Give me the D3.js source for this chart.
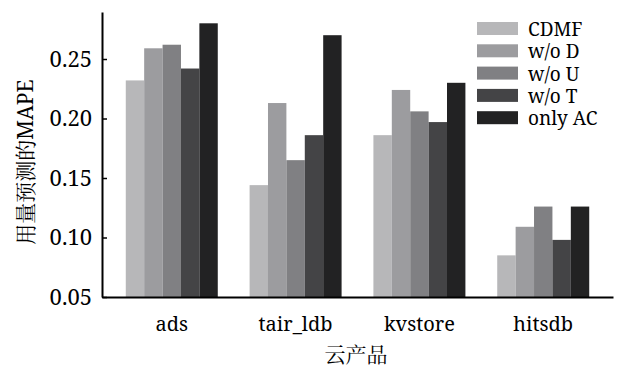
<!DOCTYPE html>
<html>
<head>
<meta charset="utf-8">
<script src="https://cdn.jsdelivr.net/npm/d3@7"></script>
</head>
<body style="margin:0; background:#fff">
<svg id="chart" width="642" height="378"></svg>
<script>
// categories and series
var products = ['ads', 'tair_ldb', 'kvstore', 'hitsdb'];
var seriesNames = ['CDMF', 'w/o D', 'w/o U', 'w/o T', 'only AC'];
var seriesColors = ['#b7b7b9', '#9c9c9f', '#808083', '#444446', '#222223'];

var cdmf   = [0.232, 0.144, 0.186, 0.085];
var woD    = [0.259, 0.213, 0.224, 0.109];
var woU    = [0.262, 0.165, 0.206, 0.126];
var woT    = [0.242, 0.186, 0.197, 0.098];
var onlyAC = [0.280, 0.270, 0.230, 0.126];

var yTicks = [0.05, 0.10, 0.15, 0.20, 0.25];

var values = [cdmf, woD, woU, woT, onlyAC];

var FONT = '"Noto Serif", "Noto Serif CJK SC", "Liberation Serif", serif';

var svg = d3.select('#chart');

var x0 = d3.scaleBand()
  .domain(products)
  .range([102, 613])
  .paddingInner(0.257)
  .paddingOuter(0.192);

var x1 = d3.scaleBand()
  .domain(seriesNames)
  .range([0, x0.bandwidth()]);

var y = d3.scaleLinear()
  .domain([0.05, 0.2895])
  .range([297, 12]);

// bars, one group per product
var groups = svg.selectAll('g.group')
  .data(products)
  .enter()
  .append('g')
    .attr('class', 'group')
    .attr('transform', function(d) { return 'translate(' + x0(d) + ',0)'; });

groups.selectAll('rect')
  .data(function(d, i) {
    return seriesNames.map(function(s, j) { return { name: s, value: values[j][i], color: seriesColors[j] }; });
  })
  .enter()
  .append('rect')
    .attr('x', function(d) { return x1(d.name); })
    .attr('y', function(d) { return y(d.value); })
    .attr('width', x1.bandwidth())
    .attr('height', function(d) { return y(0.05) - y(d.value); })
    .attr('fill', function(d) { return d.color; });

// y axis, ticks pointing inward
var yAxis = svg.append('g')
  .attr('transform', 'translate(102,0)')
  .call(d3.axisLeft(y)
    .tickValues(yTicks)
    .tickFormat(d3.format('.2f'))
    .tickSizeInner(-5)
    .tickSizeOuter(0)
    .tickPadding(10));
yAxis.select('.domain').attr('stroke', '#000').attr('stroke-width', 2);
yAxis.selectAll('.tick line').attr('stroke', '#000').attr('stroke-width', 1.5);
yAxis.selectAll('text')
  .style('font-family', FONT)
  .style('font-size', '22px')
  .attr('fill', '#000');

// x axis
var xAxis = svg.append('g')
  .attr('transform', 'translate(0,297)')
  .call(d3.axisBottom(x0).tickSize(0).tickPadding(20));
xAxis.select('.domain').attr('stroke', '#000').attr('stroke-width', 2);
xAxis.selectAll('text')
  .style('font-family', FONT)
  .style('font-size', '20px')
  .attr('fill', '#000');

// axis titles
svg.append('text')
  .attr('transform', 'translate(25,162) rotate(-90)')
  .attr('text-anchor', 'middle')
  .attr('dominant-baseline', 'central')
  .style('font-family', FONT)
  .style('font-size', '21px')
  .attr('fill', '#000')
  .text('用量预测的MAPE');

svg.append('text')
  .attr('x', 356)
  .attr('y', 362)
  .attr('text-anchor', 'middle')
  .style('font-family', FONT)
  .style('font-size', '21px')
  .attr('fill', '#000')
  .text('云产品');

// legend
var legend = svg.selectAll('g.legend')
  .data(seriesNames)
  .enter()
  .append('g')
    .attr('class', 'legend')
    .attr('transform', function(d, i) { return 'translate(477,' + (22 + i * 22.3) + ')'; });

legend.append('rect')
  .attr('width', 41)
  .attr('height', 13)
  .attr('fill', function(d, i) { return seriesColors[i]; });

legend.append('text')
  .attr('x', 51)
  .attr('y', 14)
  .style('font-family', FONT)
  .style('font-size', '19px')
  .attr('fill', '#000')
  .text(function(d) { return d; });
</script>
</body>
</html>
